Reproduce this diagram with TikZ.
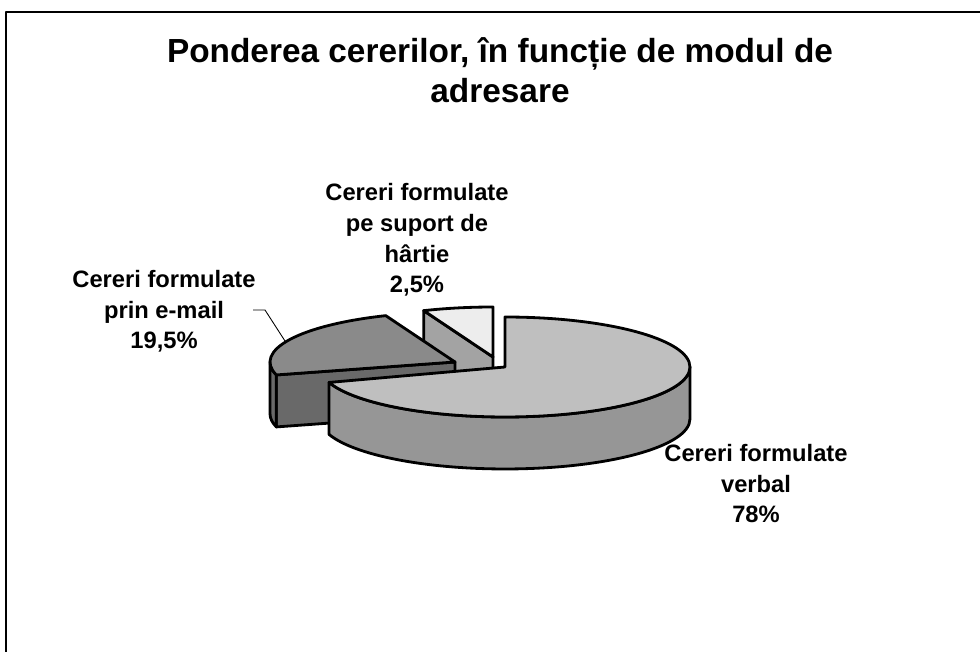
\documentclass[tikz,border=0pt]{standalone}
\usepackage{fontspec}
\setmainfont{Liberation Sans}
\usepackage{xcolor}
\usetikzlibrary{calc,positioning}

\definecolor{verbaltop}{gray}{0.75}
\definecolor{verbalside}{gray}{0.59}
\definecolor{emailtop}{gray}{0.54}
\definecolor{emailside}{gray}{0.41}
\definecolor{papertop}{gray}{0.93}
\definecolor{paperside}{gray}{0.64}

\begin{document}
\begin{tikzpicture}[x=0.02cm, y=0.02cm, line join=round]
		\tikzset{slice/.style={draw=black, line width=1.6pt},
			rim/.style={x radius=3.7cm, y radius=1cm},
			lbl/.style={font=\bfseries\fontsize{13.5}{17.6}\selectfont, align=center, inner sep=0pt, anchor=base},
			ttl/.style={font=\bfseries\fontsize{19}{22.8}\selectfont, align=center, inner sep=0pt, anchor=base}}
		\useasboundingbox (0,0) rectangle (980,652);
		\draw[line width=1.1pt] (6,0) -- (6,640) -- (980,640);

		\node[ttl] (title) at (500,549) {Ponderea cererilor, în funcție de modul de\\adresare};

		\coordinate (P) at (493,295);
		\coordinate (E) at (455,290);
		\coordinate (M) at (505,285);

		% hartie
		\filldraw[slice, fill=paperside] (P) -- ($(P)+(112:3.7cm and 1cm)$) -- ++(0,-1.04cm) -- ($(P)+(0,-1.04cm)$) -- cycle;
		\filldraw[slice, fill=papertop] (P) -- ++(90:3.7cm and 1cm) arc[rim, start angle=90, end angle=112] -- cycle;

		% e-mail
		\filldraw[slice, fill=emailside] (E) -- ($(E)+(195:3.7cm and 1cm)$) -- ++(0,-1.04cm) -- ($(E)+(0,-1.04cm)$) -- cycle;
		\filldraw[slice, fill=emailside] ($(E)+(180:3.7cm and 1cm)$) arc[rim, start angle=180, end angle=195] -- ++(0,-1.04cm) arc[rim, start angle=195, end angle=180] -- cycle;
		\filldraw[slice, fill=emailtop] (E) -- ++(112:3.7cm and 1cm) arc[rim, start angle=112, end angle=195] -- cycle;

		% verbal
		\filldraw[slice, fill=verbalside] ($(M)+(198:3.7cm and 1cm)$) arc[rim, start angle=198, end angle=360] -- ++(0,-1.04cm) arc[rim, start angle=360, end angle=198] -- cycle;
		\filldraw[slice, fill=verbaltop] (M) -- ++(90:3.7cm and 1cm) arc[rim, start angle=90, end angle=-162] -- cycle;

		\node[lbl] (hartie) at (417,359) {Cereri formulate\\pe suport de\\hârtie\\2,5\%};
		\node[lbl] (email) at (164,303) {Cereri formulate\\prin e-mail\\19,5\%};
		\node[lbl] (verbal) at (756,129) {Cereri formulate\\verbal\\78\%};

		\coordinate (leadA) at (253,342);
		\coordinate (leadB) at (265,342);
		\coordinate (leadC) at (285,311);
		\draw[line width=0.5pt] (leadA) -- (leadB) -- (leadC);

	\end{tikzpicture}
\end{document}
